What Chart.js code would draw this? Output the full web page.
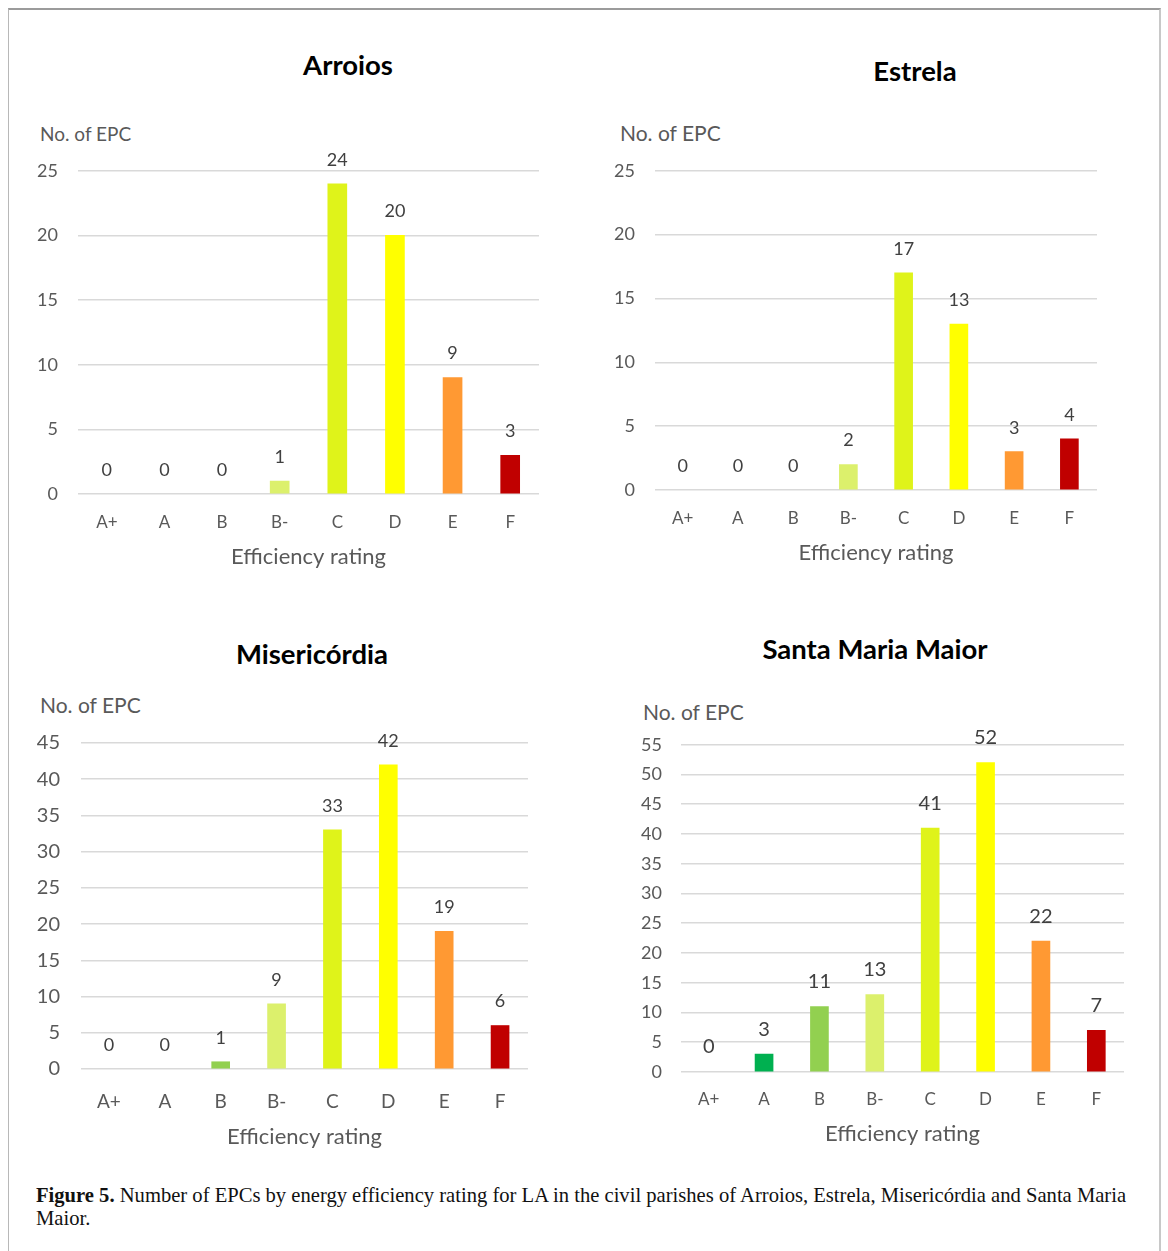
<!DOCTYPE html>
<html>
<head>
<meta charset="utf-8">
<script src="https://cdn.jsdelivr.net/npm/chart.js@4/dist/chart.umd.min.js"></script>
<style>
  body { margin: 0; background: #fff; width: 1168px; height: 1251px; position: relative; overflow: hidden; font-family: Lato, "Open Sans", sans-serif; }
  .frame { position: absolute; left: 8px; top: 8px; width: 1153px; height: 1270px; border-top: 2px solid #9b9b9b; border-left: 1px solid #b8b8b8; border-right: 2px solid #c8c8c8; box-sizing: border-box; }
  .title { position: absolute; font-weight: bold; font-size: 27.5px; color: #000; transform: translate(-50%, -50%); white-space: nowrap; }
  .ylab { position: absolute; color: #595959; white-space: nowrap; transform: translateY(-50%); }
  canvas { position: absolute; }
  .caption { position: absolute; left: 36px; top: 1184px; width: 1115px; font-family: "Liberation Serif", "DejaVu Serif", serif; font-size: 20.6px; line-height: 23px; color: #111; }
</style>
</head>
<body>
<div class="frame"></div>

<div class="title" style="left:348px; top:64px;">Arroios</div>
<div class="title" style="left:915px; top:70px;">Estrela</div>
<div class="title" style="left:312px; top:653px;">Misericórdia</div>
<div class="title" style="left:875px; top:648px;">Santa Maria Maior</div>

<div class="ylab" style="left:40px; top:133px; font-size:19px;">No. of EPC</div>
<div class="ylab" style="left:620px; top:132px; font-size:21px;">No. of EPC</div>
<div class="ylab" style="left:40px; top:704px; font-size:21px;">No. of EPC</div>
<div class="ylab" style="left:643px; top:711px; font-size:21px;">No. of EPC</div>

<canvas id="arroios" width="560" height="440" style="left:10px; top:140px;"></canvas>
<canvas id="estrela" width="560" height="440" style="left:590px; top:140px;"></canvas>
<canvas id="misericordia" width="560" height="450" style="left:10px; top:710px;"></canvas>
<canvas id="santaMaria" width="560" height="440" style="left:590px; top:715px;"></canvas>

<div class="caption"><b>Figure 5.</b> Number of EPCs by energy efficiency rating for LA in the civil parishes of Arroios, Estrela, Misericórdia and Santa Maria Maior.</div>

<script>
// Energy efficiency rating classes and their colours
const ratings = ['A+', 'A', 'B', 'B-', 'C', 'D', 'E', 'F'];
const ratingColours = ['#00843d', '#00b050', '#92d050', '#dcf06c', '#dff31a', '#ffff00', '#ff9933', '#c00000'];

// Number of EPCs per rating, by civil parish
const arroios = [0, 0, 0, 1, 24, 20, 9, 3];
const estrela = [0, 0, 0, 2, 17, 13, 3, 4];
const misericordia = [0, 0, 1, 9, 33, 42, 19, 6];
const santaMariaMaior = [0, 3, 11, 13, 41, 52, 22, 7];

// Top of each value axis
const arroiosMax = 25;
const estrelaMax = 25;
const misericordiaMax = 45;
const santaMariaMaiorMax = 55;
const tickStep = 5;

const textGrey = '#595959';

// Writes each bar's value above it
const valueLabels = {
  id: 'valueLabels',
  afterDatasetsDraw(chart, args, opts) {
    const ctx = chart.ctx;
    const meta = chart.getDatasetMeta(0);
    const values = chart.data.datasets[0].data;
    ctx.save();
    ctx.font = opts.size + 'px Lato, sans-serif';
    ctx.fillStyle = '#404040';
    ctx.textAlign = 'center';
    ctx.textBaseline = 'middle';
    meta.data.forEach((bar, i) => {
      ctx.fillText(String(values[i]), bar.x, bar.y - opts.gap);
    });
    ctx.restore();
  }
};

function drawParish(id, values, max, g) {
  new Chart(document.getElementById(id), {
    type: 'bar',
    data: {
      labels: ratings,
      datasets: [{
        data: values,
        // empty classes get no visible sliver on the baseline
        backgroundColor: (c) => (values[c.dataIndex] === 0 ? 'rgba(0,0,0,0)' : ratingColours[c.dataIndex]),
        barThickness: g.bar
      }]
    },
    options: {
      responsive: false,
      animation: false,
      layout: { padding: { left: 0, top: g.top, right: g.right, bottom: g.bottom } },
      plugins: {
        legend: { display: false },
        tooltip: { enabled: false },
        valueLabels: { size: g.valueSize, gap: g.gap }
      },
      scales: {
        x: {
          grid: { display: false, drawTicks: false },
          border: { display: false },
          ticks: { color: textGrey, font: { family: 'Lato', size: g.catSize }, padding: g.catPad, maxRotation: 0 },
          title: { display: true, text: 'Efficiency rating', color: textGrey, font: { family: 'Lato', size: 22 }, padding: 0 },
          afterFit(scale) { scale.height = g.xHeight; }
        },
        y: {
          min: 0,
          max: max,
          grid: { color: '#d9d9d9', lineWidth: 1.6, drawTicks: false },
          border: { display: false },
          ticks: { stepSize: tickStep, color: textGrey, font: { family: 'Lato', size: g.tickSize }, padding: g.tickPad },
          afterFit(scale) { scale.width = g.yWidth; }
        }
      }
    },
    plugins: [valueLabels]
  });
}

drawParish('arroios', arroios, arroiosMax,
  { top: 30, right: 31, bottom: 10, yWidth: 68, xHeight: 76, bar: 19, tickSize: 18, tickPad: 20, catSize: 17, catPad: 18, valueSize: 18, gap: 24 });
drawParish('estrela', estrela, estrelaMax,
  { top: 30, right: 53, bottom: 14, yWidth: 65, xHeight: 76, bar: 18, tickSize: 18, tickPad: 20, catSize: 17, catPad: 18, valueSize: 18, gap: 24 });
drawParish('misericordia', misericordia, misericordiaMax,
  { top: 29, right: 42, bottom: 10, yWidth: 71, xHeight: 81, bar: 18, tickSize: 20, tickPad: 21, catSize: 19, catPad: 21, valueSize: 18, gap: 24 });
drawParish('santaMaria', santaMariaMaior, santaMariaMaiorMax,
  { top: 28, right: 26, bottom: 8, yWidth: 91, xHeight: 75, bar: 18, tickSize: 18, tickPad: 19, catSize: 17, catPad: 17, valueSize: 20, gap: 25 });
</script>
</body>
</html>
